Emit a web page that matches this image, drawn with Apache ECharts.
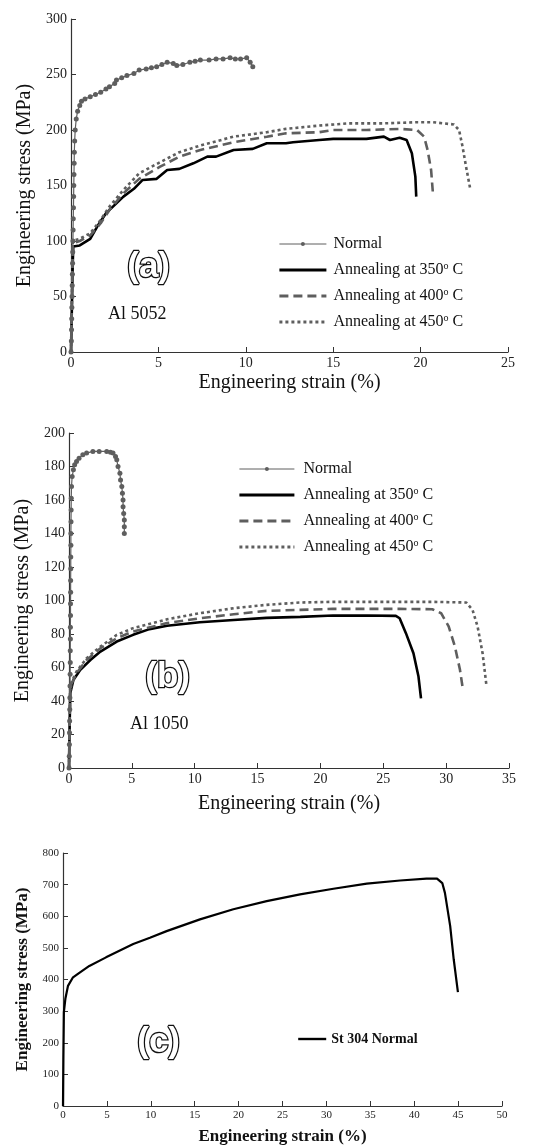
<!DOCTYPE html>
<html>
<head>
<meta charset="utf-8">
<script src="https://cdn.jsdelivr.net/npm/echarts@6/dist/echarts.min.js"></script>
<style>html,body{margin:0;padding:0;background:#fff}#c{width:535px;height:1146px}</style>
</head>
<body>
<div id="c"></div>
<script>
// ---------- Panel (a) Al 5052 ----------
var aNormal = [[0,0],[0.02,10],[0.03,20],[0.04,30],[0.05,40],[0.06,50],[0.07,60],[0.08,70],[0.09,80],[0.1,90],[0.11,100],[0.12,110],[0.13,120],[0.14,130],[0.15,140],[0.16,150],[0.17,160],[0.18,170],[0.19,180],[0.21,190],[0.24,200],[0.3,210],[0.38,217],[0.5,222],[0.6,226],[0.8,228],[1.1,230],[1.4,232],[1.7,234],[2.0,237],[2.2,239],[2.5,242],[2.6,245],[2.9,247],[3.2,249],[3.6,251],[3.9,254],[4.3,255],[4.6,256],[4.9,257],[5.2,259],[5.5,261],[5.85,260],[6.05,258],[6.4,259],[6.8,261],[7.1,262],[7.4,263],[7.9,263],[8.3,264],[8.7,264],[9.1,265],[9.4,264],[9.7,264],[10.05,265],[10.25,261],[10.4,257]];
var a350 = [[0,0],[0.05,40],[0.1,80],[0.13,95],[0.5,96],[1.1,102],[1.5,113],[2.0,125],[2.4,131],[3.0,140],[3.6,147],[4.1,155],[4.9,156],[5.5,164],[6.2,165],[7.0,170],[7.8,176],[8.3,176],[9.3,182],[10.4,183],[11.2,188],[12.3,188],[12.7,189],[14.2,191],[15.0,192],[16.9,192],[17.9,194],[18.25,191],[18.8,193],[19.2,191],[19.5,179],[19.7,158],[19.75,140]];
var a400 = [[0,0],[0.05,45],[0.1,98],[0.5,100],[1.1,105],[1.7,116],[2.2,128],[3.0,143],[3.9,156],[5.1,167],[6.2,176],[7.4,182],[9.3,189],[11.2,194],[12.3,197],[14.2,198],[15.0,200],[16.9,200],[18.8,201],[19.8,200],[20.2,194],[20.4,182],[20.6,164],[20.7,144]];
var a450 = [[0,0],[0.05,45],[0.1,100],[0.5,102],[1.1,107],[1.7,119],[2.2,131],[3.0,146],[3.9,161],[5.1,171],[6.2,180],[7.4,186],[9.3,194],[11.2,198],[12.3,201],[14.2,204],[15.9,206],[17.9,206],[19.8,207],[20.7,207],[21.9,205],[22.2,200],[22.4,185],[22.6,167],[22.85,146]];
// ---------- Panel (b) Al 1050 ----------
var bNormal = [[0,0],[0.02,7],[0.03,14],[0.04,21],[0.05,28],[0.06,35],[0.07,42],[0.08,49],[0.09,56],[0.1,63],[0.1,70],[0.11,77],[0.11,84],[0.12,91],[0.12,98],[0.13,105],[0.13,112],[0.14,119],[0.14,126],[0.15,133],[0.15,140],[0.16,147],[0.17,154],[0.18,161],[0.2,168],[0.25,174],[0.35,178],[0.45,181],[0.6,183],[0.8,185],[1.1,187],[1.4,188],[1.9,189],[2.4,189],[3.0,189],[3.3,188.5],[3.5,188],[3.7,186],[3.8,184],[3.9,180],[4.05,176],[4.1,172],[4.2,168],[4.25,164],[4.3,160],[4.3,156],[4.35,152],[4.4,148],[4.4,144],[4.4,140]];
var b350 = [[0,0],[0.05,25],[0.1,44.6],[0.35,52.6],[0.9,58.6],[1.7,64.5],[2.5,69.5],[3.8,75.5],[5.1,79.5],[6.4,82.9],[7.8,84.9],[9.1,86],[10.4,87],[13.1,88.4],[15.7,89.6],[18.4,90.2],[21,91],[23.7,91],[26,90.8],[26.3,89.4],[26.8,80.5],[27.4,68.5],[27.8,54.6],[28.0,41.6]];
var b400 = [[0,0],[0.05,28],[0.1,48.6],[0.6,56.6],[1.4,64.5],[2.5,71.5],[3.8,77.5],[5.1,81.5],[7.8,86.5],[10.4,89.4],[13.1,91.8],[15.7,93.8],[18.4,94.4],[21,95],[23.7,95],[26.3,95],[28.9,94.8],[29.6,92.4],[30.2,84.5],[30.7,72.5],[31.1,58.6],[31.3,48.6]];
var b450 = [[0,0],[0.05,28],[0.1,49.6],[0.6,57.6],[1.4,65.5],[2.5,72.5],[3.8,79.5],[5.1,83.5],[7.8,88.8],[10.4,92.4],[13.1,95.4],[15.7,97.4],[18.4,98.8],[21,99.2],[23.7,99.2],[26.3,99.2],[28.9,99.2],[31.6,98.8],[32.1,94.4],[32.5,84.5],[32.9,68.5],[33.2,49.6]];
// ---------- Panel (c) St 304 ----------
var cSt304 = [[0,0],[0.04,150],[0.1,297],[0.27,339],[0.57,380],[1.14,407],[1.9,422],[3,443],[4.9,470],[8,512],[9.9,532],[11.8,553],[15.6,590],[19.4,622],[23.2,648],[27,669],[30.8,687],[34.6,703],[38.4,713],[41.4,719],[42.6,719],[43.2,705],[43.5,674],[44.1,569],[44.5,464],[44.98,360]];

var legendNames = ['Normal','Annealing at 350','Annealing at 400','Annealing at 450'];

var SERIF = '"Liberation Serif","Times New Roman",serif';
var GRAY = '#5e5e5e';

function axisCommon(fs) {
  return {
    axisLine: {show: true, lineStyle: {color: '#333', width: 1.2}},
    axisTick: {show: true, inside: true, length: 5, lineStyle: {color: '#333'}},
    splitLine: {show: false},
    axisLabel: {color: '#222', fontFamily: SERIF, fontSize: fs, margin: 4},
    nameTextStyle: {color: '#111', fontFamily: SERIF, fontSize: 20}
  };
}
function mkAxis(idx, max, interval, fs, name, gap, bold) {
  var o = axisCommon(fs);
  o.type = 'value'; o.gridIndex = idx; o.min = 0; o.max = max; o.interval = interval;
  o.name = name; o.nameLocation = 'middle'; o.nameGap = gap;
  if (bold) { o.nameTextStyle.fontWeight = 'bold'; o.nameTextStyle.fontSize = 17; }
  return o;
}

function normalSeries(name, xi, data) {
  return {type: 'line', name: name, xAxisIndex: xi, yAxisIndex: xi, data: data,
    symbol: 'circle', symbolSize: 5, showSymbol: true,
    itemStyle: {color: GRAY}, lineStyle: {color: GRAY, width: 1.2}, animation: false};
}
function lineSeries(name, xi, data, color, type, width) {
  return {type: 'line', name: name, xAxisIndex: xi, yAxisIndex: xi, data: data,
    symbol: 'none', showSymbol: false, itemStyle: {color: color},
    lineStyle: {color: color, width: width, type: type}, animation: false};
}

var richLeg = {
  n: {fontFamily: SERIF, fontSize: 16, color: '#111', lineHeight: 18},
  s: {fontFamily: SERIF, fontSize: 10, color: '#111', verticalAlign: 'top', lineHeight: 18}
};
function legFmt(name) {
  var base = name.replace(/^[abc]-/, '');
  if (base === 'Normal') return '{n|Normal}';
  return '{n|' + base + '}{s|o}{n| C}';
}
function legData(prefix) {
  return legendNames.map(function (n) {
    if (n === 'Normal') return {name: prefix + n, lineStyle: {width: 1}};
    return {name: prefix + n, itemStyle: {opacity: 0}, lineStyle: {width: 2.8}};
  });
}

var outlineFont = 'bold 35px "Liberation Sans", Arial, sans-serif';

var option = {
  animation: false,
  backgroundColor: '#fff',
  grid: [
    {left: 71, top: 19, width: 437, height: 333},
    {left: 69, top: 433, width: 440, height: 335},
    {left: 63, top: 853, width: 439, height: 255}
  ],
  xAxis: [
    mkAxis(0, 25, 5, 14, 'Engineering strain (%)', 21, false),
    mkAxis(1, 35, 5, 14, 'Engineering strain (%)', 26, false),
    mkAxis(2, 50, 5, 11, 'Engineering strain (%)', 22, true)
  ],
  yAxis: [
    mkAxis(0, 300, 50, 14, 'Engineering stress (MPa)', 30, false),
    mkAxis(1, 200, 20, 14, 'Engineering stress (MPa)', 35, false),
    mkAxis(2, 800, 100, 11, 'Engineering stress (MPa)', 20, true)
  ],
  legend: [
    {orient: 'vertical', left: 273, top: 231, itemWidth: 47, itemHeight: 5, itemGap: 9,
     data: legData('a-'), formatter: legFmt,
     textStyle: {rich: richLeg, padding: [0,0,0,2]}, selectedMode: false},
    {orient: 'vertical', left: 233, top: 456, itemWidth: 55, itemHeight: 5, itemGap: 9,
     data: legData('b-'), formatter: legFmt,
     textStyle: {rich: richLeg, padding: [0,0,0,4]}, selectedMode: false},
    {orient: 'vertical', left: 292, top: 1027, itemWidth: 28, itemHeight: 5,
     data: [{name: 'St 304 Normal', itemStyle: {opacity: 0}, lineStyle: {width: 2.4}}],
     textStyle: {fontFamily: SERIF, fontSize: 14, fontWeight: 'bold', color: '#111'}, selectedMode: false}
  ],
  graphic: [
    {type: 'text', left: 126, top: 249, style: {text: '(a)', font: outlineFont, fill: '#fff', stroke: '#111', lineWidth: 2.5}},
    {type: 'text', left: 108, top: 305, style: {text: 'Al 5052', font: '18px ' + SERIF, fill: '#111'}},
    {type: 'text', left: 144, top: 659, style: {text: '(b)', font: outlineFont, fill: '#fff', stroke: '#111', lineWidth: 2.5}},
    {type: 'text', left: 130, top: 715, style: {text: 'Al 1050', font: '18px ' + SERIF, fill: '#111'}},
    {type: 'text', left: 136, top: 1024, style: {text: '(c)', font: outlineFont, fill: '#fff', stroke: '#111', lineWidth: 2.5}}
  ],
  series: [
    normalSeries('a-Normal', 0, aNormal),
    lineSeries('a-Annealing at 350', 0, a350, '#000', 'solid', 2.6),
    lineSeries('a-Annealing at 400', 0, a400, GRAY, [9,5], 2.6),
    lineSeries('a-Annealing at 450', 0, a450, GRAY, [3,3], 2.6),
    normalSeries('b-Normal', 1, bNormal),
    lineSeries('b-Annealing at 350', 1, b350, '#000', 'solid', 2.6),
    lineSeries('b-Annealing at 400', 1, b400, GRAY, [9,5], 2.6),
    lineSeries('b-Annealing at 450', 1, b450, GRAY, [3,3], 2.6),
    lineSeries('St 304 Normal', 2, cSt304, '#000', 'solid', 2.2)
  ]
};

var chart = echarts.init(document.getElementById('c'), null, {renderer: 'canvas'});
chart.setOption(option);
</script>
</body>
</html>
